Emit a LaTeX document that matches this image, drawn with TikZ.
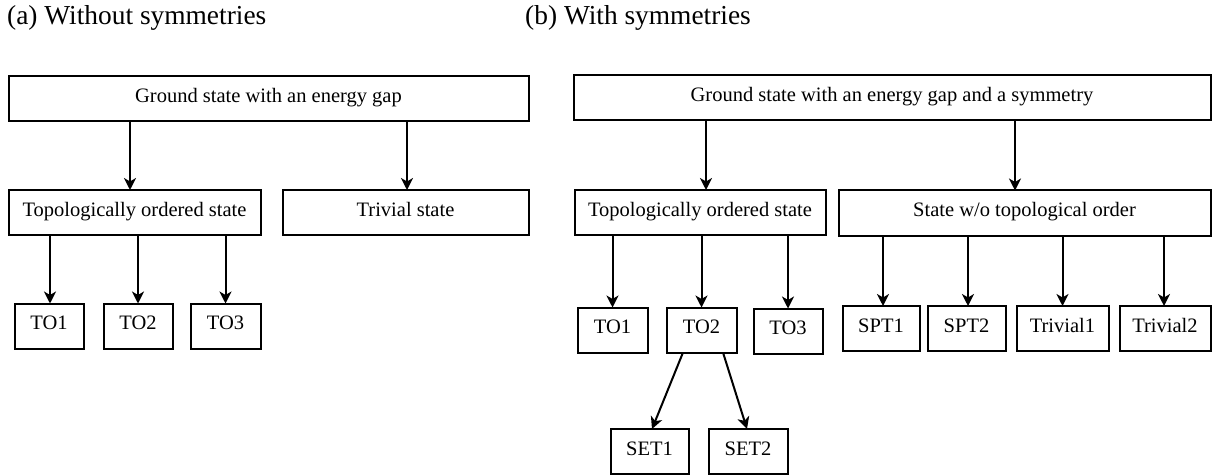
\documentclass[tikz,border=0pt]{standalone}
\usepackage{fontspec}
\setmainfont{Liberation Serif}
\usetikzlibrary{arrows.meta}
\begin{document}
\begin{tikzpicture}[x=1pt,y=-1pt,
  box/.style={draw=black,line width=2pt,inner sep=0pt,outer sep=0pt,
    minimum height=45pt,font=\fontsize{20.5}{24}\selectfont,
    text height=0.74em,text depth=0pt,align=center},
  arr/.style={line width=2pt,-{Stealth[length=12pt,width=12pt,inset=3.5pt]}},
  ttl/.style={anchor=base west,inner sep=0pt,font=\fontsize{27.4}{32}\selectfont}]
\useasboundingbox (0,0) rectangle (1216,476);

% titles
\node[ttl] (ta) at (7,25) {(a) Without symmetries};
\node[ttl] (tb) at (525,25) {(b) With symmetries};

% (a)
\node[box,minimum width=520pt] (A0) at (268.5,99) {Ground state with an energy gap};
\node[box,minimum width=252pt] (A1) at (134.5,212.5) {Topologically ordered state};
\node[box,minimum width=246pt] (A2) at (405.5,212.5) {Trivial state};
\node[box,minimum width=69pt] (AT1) at (49,326) {TO1};
\node[box,minimum width=69pt] (AT2) at (138,326) {TO2};
\node[box,minimum width=70pt] (AT3) at (225.5,326) {TO3};

\coordinate (a1t) at ([xshift=-4.5pt]A1.north);
\coordinate (a2t) at ([xshift=1.5pt]A2.north);
\coordinate (at1t) at ([xshift=1pt]AT1.north);
\draw[arr] (A0.south -| a1t) -- (a1t);
\draw[arr] (A0.south -| a2t) -- (a2t);
\draw[arr] (A1.south -| at1t) -- (at1t);
\draw[arr] (A1.south -| AT2.north) -- (AT2.north);
\draw[arr] (A1.south -| AT3.north) -- (AT3.north);

% (b)
\node[box,minimum width=637pt] (B0) at (892,98) {Ground state with an energy gap and a symmetry};
\node[box,minimum width=251pt] (B1) at (700,212.5) {Topologically ordered state};
\node[box,minimum width=372pt] (B2) at (1024.5,213) {State w/o topological order};
\node[box,minimum width=70pt] (BT1) at (612.5,330) {TO1};
\node[box,minimum width=70pt] (BT2) at (701.5,330) {TO2};
\node[box,minimum width=69pt] (BT3) at (788,331) {TO3};
\node[box,minimum width=77pt] (S1) at (881,328.5) {SPT1};
\node[box,minimum width=78pt] (S2) at (966.5,328.5) {SPT2};
\node[box,minimum width=92pt] (R1) at (1062.5,328.5) {Trivial1};
\node[box,minimum width=91pt] (R2) at (1165,328.5) {Trivial2};
\node[box,minimum width=78pt] (E1) at (649.5,451.5) {SET1};
\node[box,minimum width=79pt] (E2) at (748,451.5) {SET2};

\coordinate (b1t) at ([xshift=6pt]B1.north);
\coordinate (b2t) at ([xshift=-9.5pt]B2.north);
\coordinate (s1t) at ([xshift=2pt]S1.north);
\coordinate (s2t) at ([xshift=1.5pt]S2.north);
\coordinate (r2t) at ([xshift=-1pt]R2.north);
\draw[arr] (B0.south -| b1t) -- (b1t);
\draw[arr] (B0.south -| b2t) -- (b2t);
\draw[arr] (B1.south -| BT1.north) -- (BT1.north);
\draw[arr] (B1.south -| BT2.north) -- (BT2.north);
\draw[arr] (B1.south -| BT3.north) -- (BT3.north);
\draw[arr] (B2.south -| s1t) -- (s1t);
\draw[arr] (B2.south -| s2t) -- (s2t);
\draw[arr] (B2.south -| R1.north) -- (R1.north);
\draw[arr] (B2.south -| r2t) -- (r2t);
\draw[arr] ([xshift=-18.5pt]BT2.south) -- ([xshift=2.5pt]E1.north);
\draw[arr] ([xshift=21.5pt]BT2.south) -- ([xshift=-1pt]E2.north);
\end{tikzpicture}
\end{document}
